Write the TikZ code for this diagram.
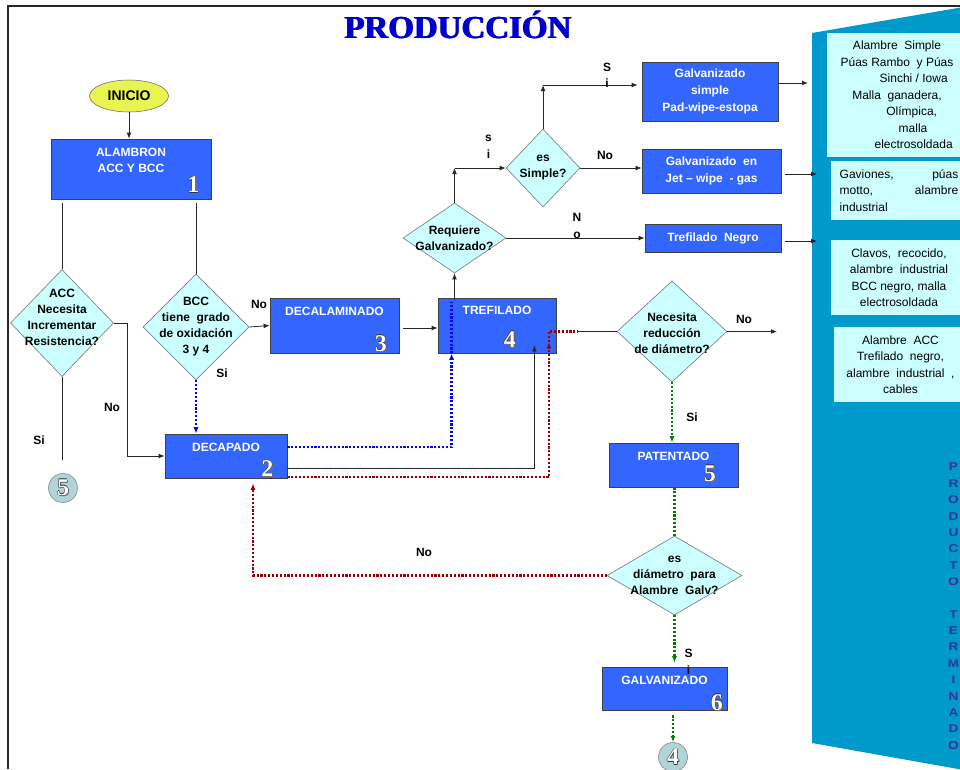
\documentclass[tikz,border=0pt]{standalone}
\usepackage{fontspec}
\setmainfont{Liberation Sans}
\newfontfamily\numfont{Liberation Serif}
\usetikzlibrary{shapes.geometric,arrows.meta,calc}
\definecolor{boxblue}{RGB}{51,102,255}
\definecolor{dcyan}{RGB}{204,255,255}
\definecolor{panelblue}{RGB}{0,153,204}
\definecolor{inicioy}{RGB}{232,245,80}
\definecolor{conngray}{RGB}{176,212,216}
\definecolor{titleblue}{RGB}{0,0,204}
\definecolor{vtxt}{RGB}{51,51,153}
\definecolor{darkred}{RGB}{153,0,0}
\definecolor{dgreen}{RGB}{0,128,0}
% white digit with dark rim and shadow
\newcommand\outnum[1]{%
  \rlap{\kern0.9pt\raisebox{-0.9pt}{\textcolor{black!55}{#1}}}%
  \rlap{\kern-0.35pt\textcolor{black!80}{#1}}\rlap{\kern0.35pt\textcolor{black!80}{#1}}%
  \rlap{\raisebox{0.35pt}{\textcolor{black!80}{#1}}}\rlap{\raisebox{-0.35pt}{\textcolor{black!80}{#1}}}%
  \textcolor{white}{#1}}
% heavier title letters
\newcommand\heavy[1]{\rlap{\kern0.45pt #1}\rlap{\kern-0.45pt #1}#1}

\begin{document}
\begin{tikzpicture}[x=0.75pt,y=-0.75pt,
    lbl/.style={font=\bfseries\fontsize{9}{12}\selectfont, align=center, inner sep=0pt},
    proc/.style={draw=black!75, fill=boxblue, line width=0.6pt, inner sep=0pt},
    btxt/.style={lbl, text=white, anchor=north},
    dec/.style={diamond, draw=black!50, fill=dcyan, line width=0.5pt, inner sep=0pt},
    num/.style={font=\numfont\bfseries\fontsize{18}{18}\selectfont, inner sep=0pt},
    conn/.style={circle, draw=black!50, fill=conngray, inner sep=0pt, minimum size=29*.75pt},
    cline/.style={draw=black!85, line width=0.6pt},
    arr/.style={cline, -{Latex[length=4.5pt,width=3.6pt]}},
    bluedot/.style={draw=blue, line width=1.7pt, dash pattern=on 1.6pt off 1.3pt, -{Latex[length=4.8pt,width=3.8pt]}},
    reddot/.style={bluedot, draw=darkred},
    greendot/.style={bluedot, draw=dgreen},
    pbox/.style={fill=dcyan, inner sep=0pt, font=\fontsize{9}{12.4}\selectfont, align=center},
  ]
  \useasboundingbox (0,0) rectangle (960,769);
  \clip (0,0) rectangle (960,769);

  % frame and title
  \draw[line width=1.6pt, black!85] (8,769) -- (8,6) -- (960,6);
  \node[font=\numfont\bfseries\fontsize{24}{24}\selectfont, text=titleblue, xscale=1.03, transform shape, anchor=base, inner sep=0pt] (title) at (458,38) {\heavy{PRODUCCIÓN}};

  % producto terminado panel
  \fill[panelblue] (812,33) -- (975,5) -- (975,772) -- (812,743) -- cycle;
  \node[pbox, minimum width=140*.75pt, minimum height=124*.75pt] (prodA) at (897,95)
    {Alambre~ Simple\\Púas Rambo~ y Púas\\\hspace*{25pt}Sinchi / Iowa\\Malla~ ganadera,\\\hspace*{22pt}Olímpica,\\\hspace*{24pt}malla\\\hspace*{25pt}electrosoldada};
  \node[pbox, minimum width=136*.75pt, minimum height=59*.75pt] (prodB) at (899,190.5)
    {\makebox[89pt][s]{Gaviones, púas}\\\makebox[89pt][s]{motto, alambre}\\\makebox[89pt][l]{industrial}};
  \node[pbox, minimum width=136*.75pt, minimum height=75*.75pt] (prodC) at (899,277.5)
    {Clavos,~ recocido,\\alambre~ industrial\\BCC negro, malla\\electrosoldada};
  \node[pbox, minimum width=133*.75pt, minimum height=75*.75pt] (prodD) at (900.5,364.5)
    {Alambre~ ACC\\Trefilado~ negro,\\alambre~ industrial~ ,\\cables};
  \foreach \ch [count=\k from 0] in {P,R,O,D,U,C,T,O,{},T,E,R,M,I,N,A,D,O}{
    \node[font=\bfseries\fontsize{8.5}{8.5}\selectfont, text=vtxt, xscale=1.2, transform shape, inner sep=0pt] (v\k) at (953.5,467+\k*16.37) {\ch};
  }

  % left part
  \node[ellipse, draw=black!60, fill=inicioy, lbl, font=\bfseries\fontsize{10.5}{12}\selectfont, minimum width=79*.75pt, minimum height=32*.75pt] (inicio) at (129,96) {INICIO};
  \node[proc, minimum width=160*.75pt, minimum height=60*.75pt] (alambron) at (131,169) {};
  \node[btxt] (alambronT) at ($(alambron.north)+(0,9)$) {ALAMBRON\\ACC Y BCC};
  \node[num] (n1) at ($(alambron.south east)+(-18,-14)$) {\outnum{1}};
  \draw[arr] (inicio.south) -- (inicio.south |- alambron.north);

  \node[dec, minimum width=103*.75pt, minimum height=107*.75pt] (acc) at (62,323) {};
  \node[lbl] (accT) at ($(acc)+(0,-6)$) {ACC\\Necesita\\Incrementar\\Resistencia?};
  \node[dec, minimum width=106*.75pt, minimum height=106*.75pt] (bcc) at (196,327) {};
  \node[lbl] (bccT) at (bcc) {BCC\\tiene~ grado\\de oxidación\\3 y 4};
  \coordinate (accTop) at (62,203);
  \coordinate (bccTop) at (196,203);
  \draw[cline] (accTop) -- (acc.north);
  \draw[cline] (bccTop) -- (bcc.north);

  \node[proc, minimum width=122*.75pt, minimum height=44*.75pt] (decapado) at (226,456) {};
  \node[btxt] (decapadoT) at ($(decapado.north)+(0,9)$) {DECAPADO};
  \node[num] (n2) at ($(decapado.south east)+(-20,-9.5)$) {\outnum{2}};
  \node[proc, minimum width=129*.75pt, minimum height=55*.75pt] (decalam) at (334.5,325.5) {};
  \node[btxt] (decalamT) at ($(decalam.north)+(0,9.5)$) {DECALAMINADO};
  \node[num] (n3) at ($(decalam.south east)+(-18.5,-9.5)$) {\outnum{3}};

  \draw[arr] (acc.east) -- ++(14,0) |- (decapado.west);
  \node[lbl] (accNo) at (112,407) {No};
  \coordinate (accEnd) at (62,460);
  \draw[cline] (acc.south) -- (accEnd);
  \node[lbl] (accSi) at (39,440) {Si};
  \node[conn, num] (c5) at (63,488) {\outnum{5}};
  \draw[arr] (bcc.east) -- (decalam.west);
  \node[lbl] (bccNo) at (259,304) {No};
  \draw[bluedot] (bcc.south) -- (bcc.south |- decapado.north);
  \node[lbl] (bccSi) at (222,373) {Si};

  % trefilado and galvanizado choice
  \node[proc, minimum width=118*.75pt, minimum height=55*.75pt] (trefilado) at (497,325.5) {};
  \node[btxt] (trefiladoT) at ($(trefilado.north)+(0,8.7)$) {TREFILADO};
  \node[num] (n4) at ($(trefilado.south east)+(-46.5,-13.5)$) {\outnum{4}};
  \draw[arr] ($(decalam.east)+(4,2.5)$) -- ($(trefilado.west)+(0,2.5)$);

  \node[dec, minimum width=103*.75pt, minimum height=70*.75pt] (req) at (454.5,238) {};
  \node[lbl] (reqT) at (req) {Requiere\\Galvanizado?};
  \node[dec, minimum width=74*.75pt, minimum height=78*.75pt] (simple) at (543,168) {};
  \node[lbl] (simpleT) at (simple) {es\\Simple?};
  \draw[arr] ($(req.south |- trefilado.north)+(0,2)$) -- (req.south);
  \coordinate (q1) at (454.5,168);
  \draw[arr] (req.north) -- (q1);
  \draw[arr] (q1) -- (simple.west);
  \node[lbl, font=\bfseries\fontsize{9}{12.8}\selectfont] (reqSi) at (488.5,146.5) {s\\i};

  \node[proc, minimum width=136*.75pt, minimum height=59*.75pt, lbl, text=white, font=\bfseries\fontsize{9}{12.5}\selectfont] (gsimple) at (710,91.5) {Galvanizado\\simple\\Pad-wipe-estopa};
  \node[proc, minimum width=139*.75pt, minimum height=44*.75pt, lbl, text=white, font=\bfseries\fontsize{9}{12.5}\selectfont] (gjet) at (711.5,171) {Galvanizado~ en\\Jet – wipe~ - gas};
  \node[proc, minimum width=136*.75pt, minimum height=28*.75pt, lbl, text=white] (tnegro) at (713,238) {Trefilado~ Negro};
  \coordinate (q2) at (543,85);
  \draw[arr] (simple.north) -- (q2);
  \draw[arr, shorten >=3pt] (q2) -- (q2 -| gsimple.west);
  \node[lbl] (simpleSi) at (607,75) {S\\i};
  \draw[arr] (simple.east) -- (simple.east -| gjet.west);
  \node[lbl] (simpleNo) at (605,155) {No};
  \draw[arr] (req.east) -- (tnegro.west);
  \node[lbl, font=\bfseries\fontsize{9}{12.8}\selectfont] (reqNo) at (577,225.5) {N\\o};

  \coordinate (pA) at (808,83);
  \coordinate (pB) at (817,174);
  \coordinate (pC) at (817,241);
  \draw[arr] ($(gsimple.east)+(0,-8.5)$) -- (pA);
  \draw[arr] ($(gjet.east)+(4,3)$) -- (pB);
  \draw[arr] ($(tnegro.east)+(4,3)$) -- (pC);

  % returns from decapado
  \coordinate (tb) at ($(trefilado.south west)+(14,0)$);
  \draw[bluedot] ($(decapado.east)+(0,-9)$) -| (tb);
  \draw[bluedot, -] (tb) -- ($(tb)+(0,-51)$);
  \draw[arr] ($(decapado.east)+(0,12)$) -| ($(trefilado.south east)+(-22,-8)$);
  \coordinate (rk) at (549,331.5);
  \coordinate (rj) at (578,331.5);
  \draw[reddot] ($(decapado.east)+(0,21)$) -| ($(rk)+(0,10.5)$);
  \draw[reddot, -] ($(rk)+(0,10.5)$) -- (rk) -- (rj);

  % diametro
  \node[dec, minimum width=110*.75pt, minimum height=101*.75pt] (nec) at (672,331.5) {};
  \node[lbl] (necT) at ($(nec)+(0,1.5)$) {Necesita\\reducción\\de diámetro?};
  \draw[cline] (rj) -- (nec.west);
  \coordinate (necOut) at (777,331.5);
  \draw[arr] (nec.east) -- (necOut);
  \node[lbl] (necNo) at (744,319) {No};

  \node[proc, minimum width=129*.75pt, minimum height=44*.75pt] (patentado) at (673.5,465) {};
  \node[btxt] (patentadoT) at ($(patentado.north)+(0,9.5)$) {PATENTADO};
  \node[num] (n5) at ($(patentado.south east)+(-28.5,-13.5)$) {\outnum{5}};
  \draw[greendot] (nec.south) -- (nec.south |- patentado.north);
  \node[lbl] (necSi) at (692,417) {Si};

  \node[dec, minimum width=135*.75pt, minimum height=79*.75pt] (dia) at (674.5,575.5) {};
  \node[lbl] (diaT) at (dia) {es\\diámetro~ para\\Alambre~ Galv?};
  \draw[greendot, -] (dia.north |- patentado.south) -- (dia.north);
  \draw[reddot] (dia.west) -| ($(decapado.south)+(27,5)$);
  \node[lbl] (diaNo) at (424,552) {No};

  \node[proc, minimum width=125*.75pt, minimum height=43*.75pt] (galvanizado) at (664.5,688.5) {};
  \node[btxt] (galvanizadoT) at ($(galvanizado.north)+(0,9.5)$) {GALVANIZADO};
  \node[num] (n6) at ($(galvanizado.south east)+(-10.5,-7.5)$) {\outnum{6}};
  \draw[greendot] (dia.south) -- ($(dia.south |- galvanizado.north)+(0,-4)$);
  \node[lbl, font=\bfseries\fontsize{9}{12.8}\selectfont] (diaSi) at (688.5,661.5) {S\\i};
  \node[conn, num] (c4) at (673,757) {\outnum{4}};
  \draw[greendot] ($(c4.north |- galvanizado.south)+(0,5)$) -- (c4.north);
\end{tikzpicture}
\end{document}
